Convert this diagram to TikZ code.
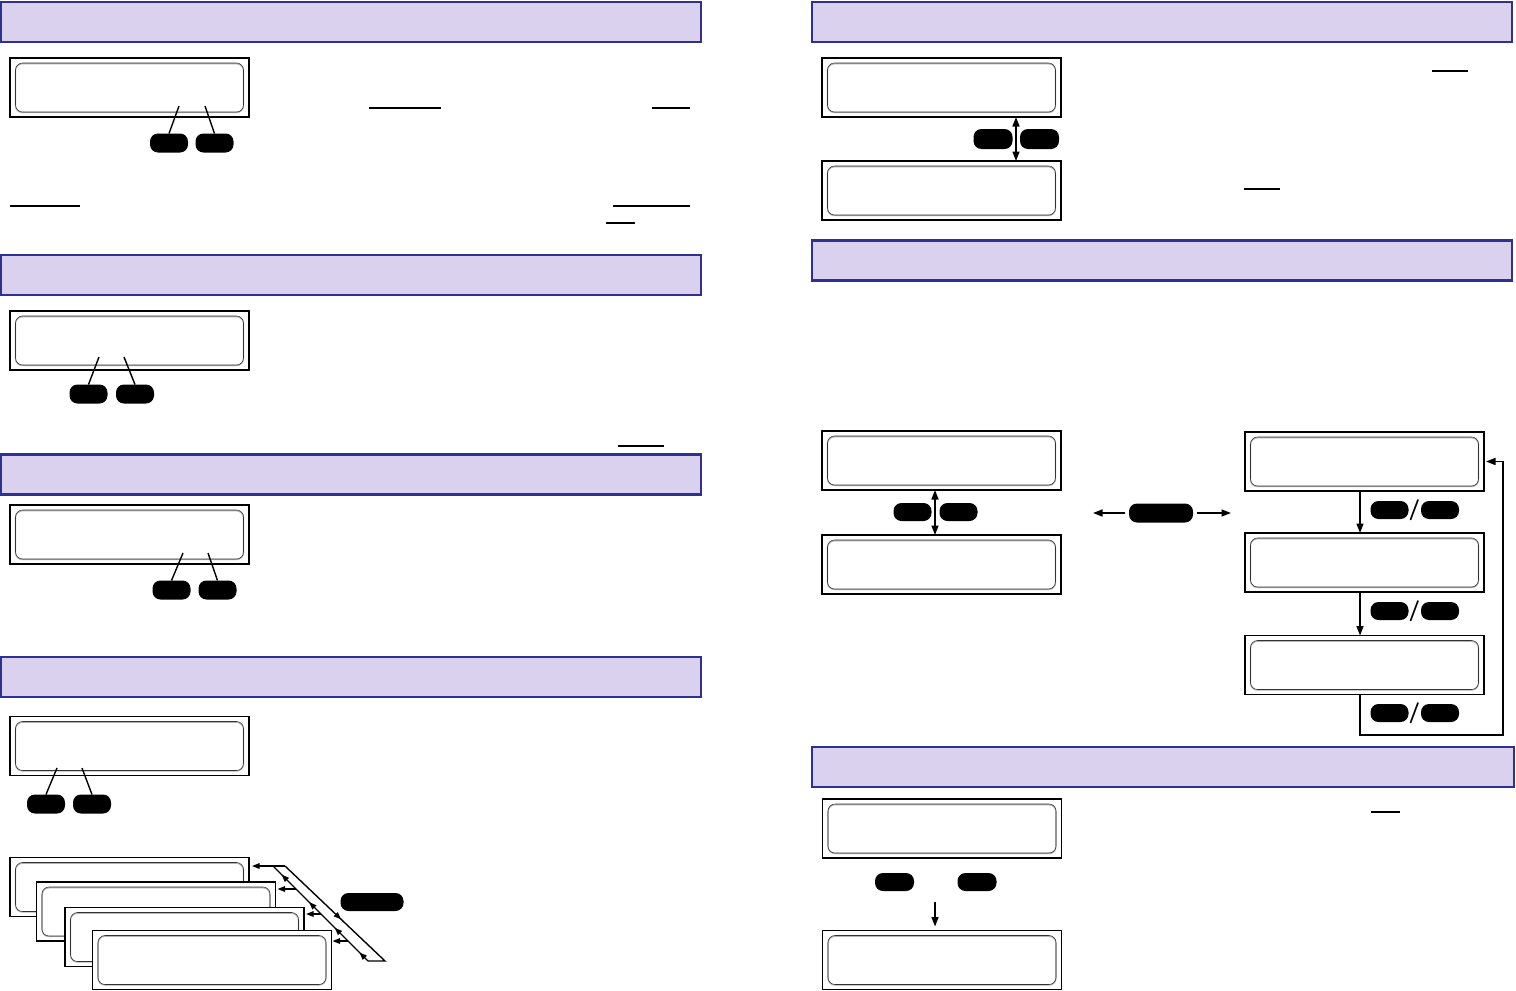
\documentclass[tikz,border=0pt]{standalone}
\usetikzlibrary{arrows.meta,decorations.markings,calc}
\definecolor{hdrfill}{RGB}{218,209,238}
\definecolor{hdrline}{RGB}{46,49,145}
\begin{document}
\begin{tikzpicture}[x=1pt,y=-1pt,
 hdr/.style={rectangle, draw=hdrline, fill=hdrfill, line width=2.4pt, minimum height=40pt, inner sep=0pt, outer sep=0pt},
 lcd/.style={rectangle, draw=black, line width=1.2pt, fill=white, minimum width=239pt, minimum height=59pt, inner sep=0pt, outer sep=0pt,
   path picture={
     \draw[black!30, line width=1.2pt, rounded corners=7pt] ([xshift=5.5pt,yshift=-5.8pt]path picture bounding box.north west) rectangle ([xshift=-5.5pt,yshift=4.4pt]path picture bounding box.south east);
     \draw[black!80, line width=0.55pt, rounded corners=7pt] ([xshift=5.5pt,yshift=-5pt]path picture bounding box.north west) rectangle ([xshift=-5.5pt,yshift=5pt]path picture bounding box.south east);
   }},
 btn/.style={rectangle, fill=black, rounded corners=8pt, minimum width=38pt, minimum height=19pt, inner sep=0pt, outer sep=0pt},
 tipa/.tip={Triangle[length=9.5pt,width=7pt]},
 tipb/.tip={Triangle[length=7.5pt,width=5.5pt]},
 arr/.style={line width=1.5pt, -tipa},
 arrs/.style={line width=1.4pt, -tipb},
 dbl/.style={line width=1.5pt, tipa-tipa},
 lead/.style={line width=1.4pt},
 uline/.style={line width=1.1pt},
 slash/.style={font=\sffamily\bfseries\fontsize{21}{21}\selectfont, inner sep=0pt}]
\useasboundingbox (0,0) rectangle (1516,991);

% headers
\node[hdr, minimum width=700pt] (h1) at (351,22) {};
\node[hdr, minimum width=700pt] (h2) at (351,275) {};
\node[hdr, minimum width=700pt] (h3) at (351,474.5) {};
\node[hdr, minimum width=700pt] (h4) at (351,677) {};
\node[hdr, minimum width=700pt] (r1) at (1162,22) {};
\node[hdr, minimum width=700pt] (r2) at (1162,260.5) {};
\node[hdr, minimum width=702pt] (r3) at (1163,767) {};

% left LCDs
\node[lcd] (l1) at (129.5,87.5) {};
\node[lcd] (l2) at (129.5,340.5) {};
\node[lcd] (l3) at (129.5,534.5) {};
\node[lcd] (l4) at (129.5,746) {};
\node[lcd] (sa) at (129.5,887) {};
\node[lcd] (sb) at (156,911.5) {};
\node[lcd] (sc) at (184.5,937) {};
\node[lcd] (sd) at (212,960) {};

% right LCDs
\node[lcd] (ra) at (941.5,87.5) {};
\node[lcd] (rb) at (941.5,190.5) {};
\node[lcd] (p) at (941.5,460.5) {};
\node[lcd] (q) at (941.5,564.5) {};
\node[lcd] (s1) at (1364.5,461.5) {};
\node[lcd] (s2) at (1364.5,562.5) {};
\node[lcd] (s3) at (1364.5,665) {};
\node[lcd] (t) at (942,828.5) {};
\node[lcd] (u) at (942,960) {};

% buttons
\node[btn] (b1a) at (169,143) {};
\node[btn] (b1b) at (214.5,143) {};
\node[btn] (b2a) at (88.5,394) {};
\node[btn] (b2b) at (135,394) {};
\node[btn] (b3a) at (171.5,590) {};
\node[btn] (b3b) at (217.5,590) {};
\node[btn] (b4a) at (46,804) {};
\node[btn] (b4b) at (92,804) {};
\node[btn, minimum width=63pt, minimum height=18pt] (bs) at (372,902) {};
\node[btn, minimum width=39pt, minimum height=20pt] (br1) at (993,139) {};
\node[btn, minimum width=39pt, minimum height=20pt] (br2) at (1039.5,139) {};
\node[btn, minimum height=18pt] (bp1) at (912.5,512) {};
\node[btn, minimum height=18pt] (bp2) at (958.5,512) {};
\node[btn, minimum width=64pt] (bbig) at (1161,513) {};
\node[btn, minimum height=18pt] (bs1a) at (1389.5,510) {};
\node[btn, minimum height=18pt] (bs1b) at (1440,510) {};
\node[btn, minimum height=18pt] (bs2a) at (1389.5,611) {};
\node[btn, minimum height=18pt] (bs2b) at (1440,611) {};
\node[btn, minimum height=18pt] (bs3a) at (1389.5,713) {};
\node[btn, minimum height=18pt] (bs3b) at (1440,713) {};
\node[btn, minimum width=39pt, minimum height=18pt] (bt1) at (894.5,882) {};
\node[btn, minimum width=39pt, minimum height=18pt] (bt2) at (977,882) {};

% slashes
\node[slash] (sl1) at (1414.5,510) {/};
\node[slash] (sl2) at (1414.5,611) {/};
\node[slash] (sl3) at (1414.5,713) {/};

% leader lines
\coordinate (k1a) at (179,106); \coordinate (k1b) at (205,106);
\coordinate (k2a) at (99,357); \coordinate (k2b) at (124,357);
\coordinate (k3a) at (183,553); \coordinate (k3b) at (208,553);
\coordinate (k4a) at (57,768); \coordinate (k4b) at (82,768);
\draw[lead] (b1a.north) -- (k1a);
\draw[lead] (b1b.north) -- (k1b);
\draw[lead] (b2a.north) -- (k2a);
\draw[lead] (b2b.north) -- (k2b);
\draw[lead] (b3a.north) -- (k3a);
\draw[lead] (b3b.north) -- (k3b);
\draw[lead] (b4a.north) -- (k4a);
\draw[lead] (b4b.north) -- (k4b);

% underlines
\draw[uline] (369,108) -- (441,108);
\draw[uline] (652,108) -- (690,108);
\draw[uline] (10,206) -- (80,206);
\draw[uline] (613,206) -- (690,206);
\draw[uline] (606,223) -- (635,223);
\draw[uline] (618,446) -- (664,446);
\draw[uline] (1432,71) -- (1468,71);
\draw[uline] (1244,189) -- (1280,189);
\draw[uline] (1371,812) -- (1400,812);

% right column connectors
\draw[dbl] ([xshift=74.5pt]ra.south) -- ([xshift=74.5pt]rb.north);
\draw[dbl] ([xshift=-6.5pt]p.south) -- ([xshift=-6.5pt]q.north);
\draw[arr] ([xshift=-4.5pt]s1.south) -- ([xshift=-4.5pt]s2.north);
\draw[arr] ([xshift=-4.5pt]s2.south) -- ([xshift=-4.5pt]s3.north);
\coordinate (loopc) at (1503,735);
\draw[arr, line join=miter] ([xshift=-4.5pt]s3.south) |- (loopc) |- ([xshift=2pt]s1.east);
\coordinate (bl) at (1093,513);
\coordinate (br) at (1231,513);
\draw[arr, shorten <=4pt] (bbig.west) -- (bl);
\draw[arr, shorten <=4pt] (bbig.east) -- (br);
\coordinate (tu) at (935,902);
\draw[arr] (tu) -- ([xshift=-7pt,yshift=4pt]u.north);

% stacked cycle
\coordinate (c1) at (285,866);
\coordinate (c2) at (385,961);
\coordinate (c3) at (368,961);
\coordinate (c4) at (273,866);
\draw[arrs] (c1) -- ([xshift=3pt,yshift=21pt]sa.east);
\draw[line width=1.4pt, line join=miter, postaction={decorate},
  decoration={markings, mark=at position 0.5 with {\arrow{tipb}}}] (c1) -- (c2) -- (c3);
\draw[line width=1.4pt, postaction={decorate},
  decoration={markings,
    mark=at position 0.09 with {\arrow{tipb}},
    mark=at position 0.35 with {\arrow{tipb}},
    mark=at position 0.62 with {\arrow{tipb}},
    mark=at position 0.91 with {\arrow{tipb}}}] (c3) -- (c4);
\coordinate (j1) at (296,889);
\coordinate (j2) at (321,914);
\coordinate (j3) at (348,941);
\draw[arrs] (j1) -- ([xshift=2pt,yshift=22.5pt]sb.east);
\draw[arrs] (j2) -- ([xshift=2pt,yshift=23pt]sc.east);
\draw[arrs] (j3) -- ([xshift=1pt,yshift=19pt]sd.east);
\end{tikzpicture}
\end{document}
